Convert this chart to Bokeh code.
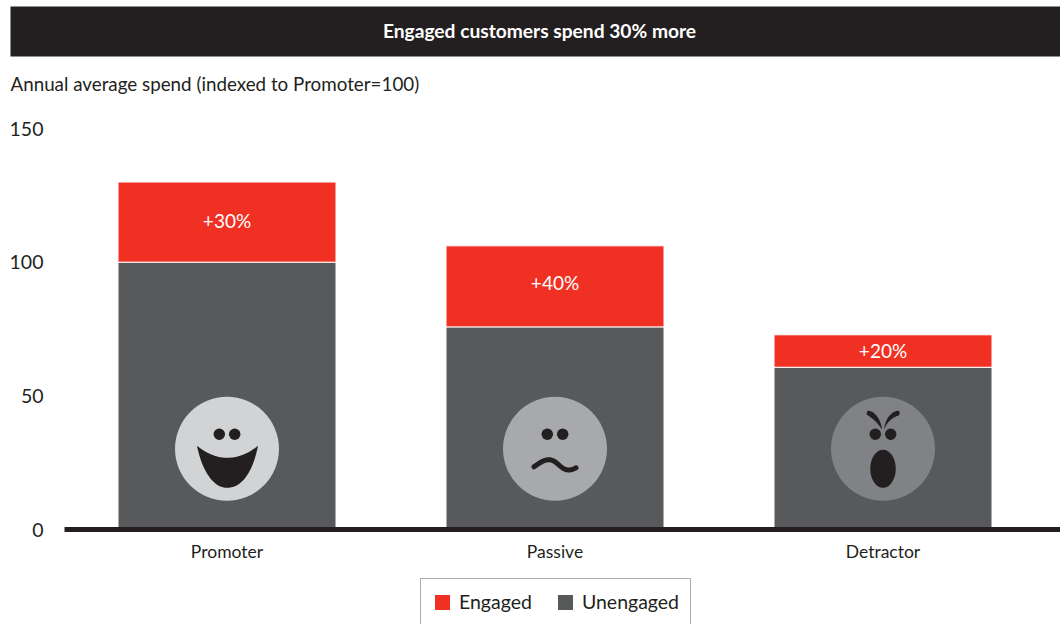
import numpy as np
from bokeh.core.properties import value
from bokeh.embed import file_html
from bokeh.models import (BoxAnnotation, ColumnDataSource, FixedTicker, Label, Legend,
                          LegendItem, Range1d)
from bokeh.plotting import figure
from bokeh.resources import INLINE

# Chart content
categories = ["Promoter", "Passive", "Detractor"]
unengaged = [100, 75.8, 60.7]
uplift_pct = [30, 40, 20]
label_y = [115.6, 92.4, 66.9]
y_ticks = [0, 50, 100, 150]
title_text = "Engaged customers spend 30% more"
subtitle_text = "Annual average spend (indexed to Promoter=100)"

# Palette
INK = "#231f20"
RED = "#f13024"
GREY = "#58595b"
FACE_COLORS = ["#d1d3d4", "#a7a9ac", "#808285"]
FONT = "Lato"

# Derived values: the engaged segment is the stated uplift on the unengaged bar
engaged = [u * p / 100 for u, p in zip(unengaged, uplift_pct)]
totals = [u + e for u, e in zip(unengaged, engaged)]
xs = list(range(len(categories)))

# The frame fills the page; the axes are pinned inside it
WIDTH, HEIGHT = 1060, 624
AXIS_LEFT, ZERO_Y = 64, 529
FIRST_BAR_X = 226.5
X_STEP = 328
Y_SCALE = 2.673

p = figure(width=WIDTH, height=HEIGHT, output_backend="svg", toolbar_location=None,
           x_range=Range1d(-FIRST_BAR_X / X_STEP, (WIDTH - FIRST_BAR_X) / X_STEP),
           y_range=Range1d(-(HEIGHT - ZERO_Y) / Y_SCALE, ZERO_Y / Y_SCALE),
           min_border=0, outline_line_color=None)
p.grid.visible = False
axis_left_x = (AXIS_LEFT - FIRST_BAR_X) / X_STEP

# Axes
p.xaxis.fixed_location = 0
p.xaxis.bounds = (axis_left_x, p.x_range.end)
p.xaxis.ticker = FixedTicker(ticks=xs)
p.xaxis.major_label_overrides = {i: c for i, c in enumerate(categories)}
p.xaxis.axis_line_color = INK
p.xaxis.axis_line_width = 5
p.xaxis.major_tick_line_color = None
p.xaxis.minor_tick_line_color = None
p.xaxis.major_label_standoff = 5
p.xaxis.major_label_text_font = FONT
p.xaxis.major_label_text_font_size = "17.5px"
p.xaxis.major_label_text_color = INK

p.yaxis.fixed_location = axis_left_x
p.yaxis.bounds = (0, 150)
p.yaxis.ticker = FixedTicker(ticks=y_ticks)
p.yaxis.axis_line_color = None
p.yaxis.major_tick_line_color = None
p.yaxis.minor_tick_line_color = None
p.yaxis.major_label_standoff = 15
p.yaxis.major_label_text_font = FONT
p.yaxis.major_label_text_font_size = "19.5px"
p.yaxis.major_label_text_color = INK

# Stacked bars
BAR_WIDTH = 218 / X_STEP
source = ColumnDataSource(dict(
    x=xs, unengaged=unengaged, total=totals, label_y=label_y,
    label=[f"+{v}%" for v in uplift_pct],
))
grey_bars = p.vbar(x="x", bottom=0, top="unengaged", width=BAR_WIDTH, source=source,
                   fill_color=GREY, line_color="white", line_width=1)
red_bars = p.vbar(x="x", bottom="unengaged", top="total", width=BAR_WIDTH, source=source,
                  fill_color=RED, line_color="white", line_width=1)
p.text(x="x", y="label_y", text="label", source=source, text_color="white",
       text_font=value(FONT), text_font_size="19px", text_align="center",
       text_baseline="middle")


# Face icons: shapes are described in pixels around each circle's centre
FACE_Y = (ZERO_Y - 448.3) / Y_SCALE


def to_data(cx, dx, dy):
    return cx + np.asarray(dx, float) / X_STEP, FACE_Y - np.asarray(dy, float) / Y_SCALE


def cubic(p0, p1, p2, p3, n=24):
    t = np.linspace(0, 1, n)[:, None]
    pts = ((1 - t) ** 3 * np.array(p0) + 3 * (1 - t) ** 2 * t * np.array(p1)
           + 3 * (1 - t) * t ** 2 * np.array(p2) + t ** 3 * np.array(p3))
    return pts[:, 0], pts[:, 1]


def chain(*segments):
    return (np.concatenate([s[0] for s in segments]),
            np.concatenate([s[1] for s in segments]))


def fill_shape(cx, shape):
    x, y = to_data(cx, *shape)
    p.patch(x, y, fill_color=INK, line_color=None)


p.scatter(xs, [FACE_Y] * 3, size=104, color=FACE_COLORS, line_color=None)

for cx in xs:
    ex, ey = to_data(cx, [-7.7, 7.7], [-14.5, -14.5])
    p.scatter(ex, ey, size=11.5, color=INK, line_color=None)

# Promoter: open smile
fill_shape(0, chain(
    cubic((-30, -3), (-20, 5), (-10, 9), (0, 9)),
    cubic((0, 9), (11, 9), (21, 5), (31, -3)),
    cubic((31, -3), (27, 17), (18, 39), (0, 39)),
    cubic((0, 39), (-16, 39), (-26, 17), (-30, -3)),
))

# Passive: wavy mouth
wx, wy = chain(
    cubic((-21, 18), (-14, 13), (-7, 8), (0, 13)),
    cubic((0, 13), (6, 17), (10, 25), (21, 19)),
)
wx, wy = to_data(1, wx, wy)
p.line(wx, wy, line_color=INK, line_width=5, line_cap="round")

# Detractor: furrowed brows and open mouth
fill_shape(2, chain(
    cubic((-14.5, -38), (-9, -38), (-2, -30), (-1, -19)),
    cubic((-1, -19), (-5, -26), (-10, -30), (-16, -34)),
    cubic((-16, -34), (-17, -35), (-16, -38), (-14.5, -38)),
))
fill_shape(2, chain(
    cubic((15, -38), (9, -38), (2, -30), (1, -19)),
    cubic((1, -19), (4, -27), (9, -31), (16, -33.5)),
    cubic((16, -33.5), (17, -35), (17, -38), (15, -38)),
))
mx, my = to_data(2, 0, 20)
p.ellipse([float(mx)], [float(my)], width=25.5, height=38, width_units="screen",
          height_units="screen", fill_color=INK, line_color=None)


# Header band and subtitle, placed in page pixels (screen y counts up from the bottom)
def page_y(y):
    return HEIGHT - y


p.add_layout(BoxAnnotation(left=10, right=WIDTH, top=page_y(6), bottom=page_y(56),
                           left_units="screen", right_units="screen", top_units="screen",
                           bottom_units="screen", fill_color=INK, fill_alpha=1, line_color=None))
p.add_layout(Label(x=539, y=page_y(30), x_units="screen", y_units="screen", text=title_text,
                   text_color="white", text_font=FONT, text_font_size="19.2px",
                   text_font_style="bold", text_align="center", text_baseline="middle"))
p.add_layout(Label(x=10, y=page_y(82.5), x_units="screen", y_units="screen", text=subtitle_text,
                   text_color=INK, text_font=FONT, text_font_size="18.8px", text_align="left",
                   text_baseline="middle"))

# Legend, its lower border running off the page
legend = Legend(items=[LegendItem(label="Engaged", renderers=[red_bars]),
                       LegendItem(label="Unengaged", renderers=[grey_bars])],
                orientation="horizontal", location=(420, -1), glyph_width=20,
                glyph_height=20, label_height=22, label_text_font=FONT,
                label_text_font_size="19.5px", label_text_color=INK,
                border_line_color="#58595b", border_line_width=1,
                background_fill_alpha=1, spacing=23, padding=11, margin=0,
                label_standoff=7)
p.add_layout(legend)

open("out.html", "w").write(file_html(p, INLINE))
